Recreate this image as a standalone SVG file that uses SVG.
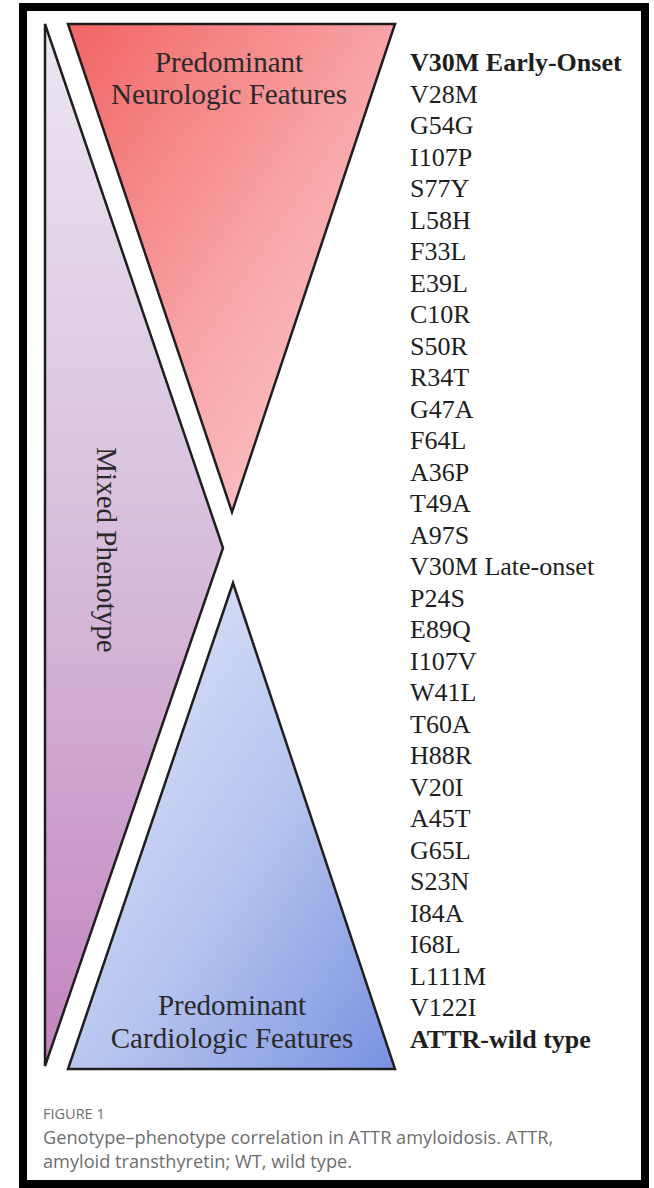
<svg xmlns="http://www.w3.org/2000/svg" width="654" height="1188" viewBox="0 0 654 1188">
<defs>
<linearGradient id="gRed" x1="0" y1="0" x2="1" y2="1">
<stop offset="0" stop-color="#f26464"/>
<stop offset="0.5" stop-color="#f8a3a6"/>
<stop offset="1" stop-color="#fdd2d4"/>
</linearGradient>
<linearGradient id="gPurple" x1="0" y1="0" x2="0" y2="1">
<stop offset="0" stop-color="#ece6f2"/>
<stop offset="0.5" stop-color="#d7bedc"/>
<stop offset="1" stop-color="#c383be"/>
</linearGradient>
<linearGradient id="gBlue" x1="0" y1="0" x2="1" y2="1">
<stop offset="0" stop-color="#e6ebf9"/>
<stop offset="0.55" stop-color="#b6c4ef"/>
<stop offset="1" stop-color="#7a91e0"/>
</linearGradient>
<style>
.shape{stroke:#1e1e1e;stroke-width:2.5;stroke-linejoin:miter}
.lbl{font-family:"Liberation Serif","Times New Roman",serif;font-size:29px;fill:#2a2a2a;text-anchor:middle}
.item{font-family:"Liberation Serif","Times New Roman",serif;font-size:26px;fill:#1e1e1e}
.b{font-weight:bold}
.cap{font-family:"Open Sans","Noto Sans",sans-serif;fill:#6e6e6e}
</style>
</defs>
<rect x="0" y="0" width="654" height="1188" fill="#ffffff"/>
<rect id="frame" x="23" y="7" width="622" height="1177" fill="#ffffff" stroke="#000" stroke-width="8"/>
<g id="mixed">
<polygon class="shape" points="45,24 223,548 45,1066" fill="url(#gPurple)"/>
<text class="lbl" transform="translate(97,550) rotate(90)">Mixed Phenotype</text>
</g>
<g id="neuro">
<polygon class="shape" points="68,24 395,24 232,512" fill="url(#gRed)"/>
<text class="lbl" x="229" y="72">Predominant</text>
<text class="lbl" x="229" y="104">Neurologic Features</text>
</g>
<g id="cardio">
<polygon class="shape" points="233,583 395,1069 68,1069" fill="url(#gBlue)"/>
<text class="lbl" x="232" y="1015">Predominant</text>
<text class="lbl" x="232" y="1048">Cardiologic Features</text>
</g>
<g id="connectors"></g>
<g id="variants">
<text class="item b" x="410" y="71">V30M Early-Onset</text>
<text class="item" x="410" y="102.5">V28M</text>
<text class="item" x="410" y="134">G54G</text>
<text class="item" x="410" y="165.5">I107P</text>
<text class="item" x="410" y="197">S77Y</text>
<text class="item" x="410" y="228.5">L58H</text>
<text class="item" x="410" y="260">F33L</text>
<text class="item" x="410" y="291.5">E39L</text>
<text class="item" x="410" y="323">C10R</text>
<text class="item" x="410" y="354.5">S50R</text>
<text class="item" x="410" y="386">R34T</text>
<text class="item" x="410" y="417.5">G47A</text>
<text class="item" x="410" y="449">F64L</text>
<text class="item" x="410" y="480.5">A36P</text>
<text class="item" x="410" y="512">T49A</text>
<text class="item" x="410" y="543.5">A97S</text>
<text class="item" x="410" y="575">V30M Late-onset</text>
<text class="item" x="410" y="606.5">P24S</text>
<text class="item" x="410" y="638">E89Q</text>
<text class="item" x="410" y="669.5">I107V</text>
<text class="item" x="410" y="701">W41L</text>
<text class="item" x="410" y="732.5">T60A</text>
<text class="item" x="410" y="764">H88R</text>
<text class="item" x="410" y="795.5">V20I</text>
<text class="item" x="410" y="827">A45T</text>
<text class="item" x="410" y="858.5">G65L</text>
<text class="item" x="410" y="890">S23N</text>
<text class="item" x="410" y="921.5">I84A</text>
<text class="item" x="410" y="953">I68L</text>
<text class="item" x="410" y="984.5">L111M</text>
<text class="item" x="410" y="1016">V122I</text>
<text class="item b" x="410" y="1047.5">ATTR-wild type</text>
</g>
<g id="caption">
<text class="cap" x="43" y="1119" font-size="14.5">FIGURE 1</text>
<text class="cap" x="43" y="1144" font-size="18.2">Genotype–phenotype correlation in ATTR amyloidosis. ATTR,</text>
<text class="cap" x="43" y="1168" font-size="18.2">amyloid transthyretin; WT, wild type.</text>
</g>
</svg>
